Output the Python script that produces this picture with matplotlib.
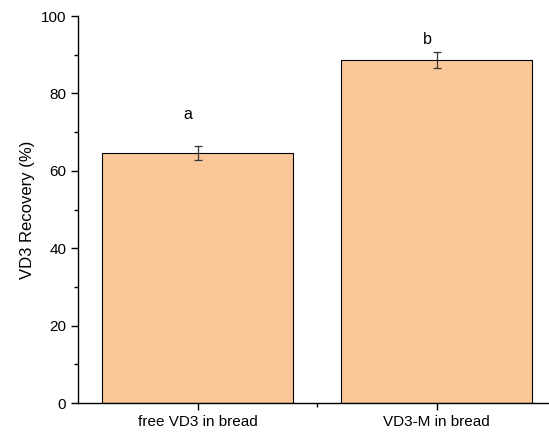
import matplotlib
matplotlib.use("Agg")
from matplotlib import pyplot as plt

# data
groups = ["free VD3 in bread", "VD3-M in bread"]
recovery = [64.6, 88.6]
errs = [1.8, 2.1]
letters = ["a", "b"]
letter_y = [74.5, 94.0]

plt.rcParams['font.family'] = ['Liberation Sans', 'DejaVu Sans']

fig = plt.figure(figsize=(5.49, 4.34), dpi=100)
ax = fig.add_axes([0.142, 0.0714, 0.871, 0.8917])

pos = [1, 2]
ax.bar(pos, recovery, width=0.8, color="#fac898", edgecolor="black", linewidth=0.8)
ax.errorbar(pos, recovery, yerr=errs, fmt="none", ecolor="#333333", elinewidth=0.9, capsize=3, capthick=0.9)

for p, l, y in zip(pos, letters, letter_y):
    ax.text(p - 0.04, y, l, ha="center", va="center", fontsize=11.5)

ax.set_xlim(0.5, 2.5)
ax.set_ylim(0, 100)
ax.set_xticks(pos)
ax.set_xticklabels(groups, fontsize=11)
ax.set_xticks([1.5], minor=True)
ax.set_yticks([0, 20, 40, 60, 80, 100])
ax.set_yticks([10, 30, 50, 70, 90], minor=True)
ax.tick_params(axis="y", labelsize=11)
ax.tick_params(which="major", direction="out", length=5, width=1)
ax.tick_params(which="minor", direction="out", length=3, width=1)
ax.set_ylabel("VD3 Recovery (%)", fontsize=12)

ax.spines["top"].set_visible(False)
ax.spines["right"].set_visible(False)
ax.spines["left"].set_linewidth(1)
ax.spines["bottom"].set_linewidth(1)

fig.savefig("out.png", dpi=100)
